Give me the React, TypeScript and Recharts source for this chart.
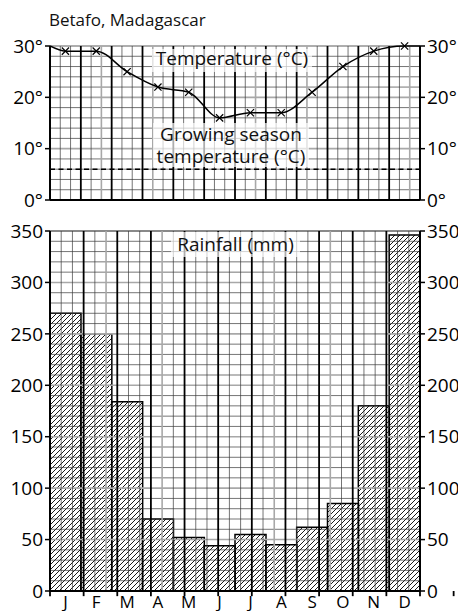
import React from 'react'
import {
  ComposedChart,
  Line,
  Bar,
  XAxis,
  YAxis,
  ReferenceLine,
} from 'recharts'

const months = ['J', 'F', 'M', 'A', 'M', 'J', 'J', 'A', 'S', 'O', 'N', 'D']
const temperature = [29, 29, 25, 22, 21, 16, 17, 17, 21, 26, 29, 30]
const tempAtLeftEdge = 30
const tempAtRightEdge = 30
const rainfall = [270, 250, 184, 70, 52, 44, 55, 45, 62, 85, 180, 346]
const growingSeasonTemp = 6
const tempTicks = [0, 10, 20, 30]
const rainTicks = [0, 50, 100, 150, 200, 250, 300, 350]

const FONT = '"Open Sans", sans-serif'
const W = 458

// graph paper: 3 small squares per month, heavier line every 5 squares
const gridCols = Array.from({ length: 37 }, (_, i) => i)
const tempRows = Array.from({ length: 16 }, (_, i) => i * 2)
const rainRows = Array.from({ length: 36 }, (_, i) => i * 10)
const monthEdges = Array.from({ length: 13 }, (_, i) => i)

const tempData = [
  { x: 0, t: tempAtLeftEdge, edge: true },
  ...months.map((m, i) => ({ x: i + 0.5, t: temperature[i], edge: false })),
  { x: 12, t: tempAtRightEdge, edge: true },
]
const rainData = months.map((m, i) => ({ month: m, key: `${m}${i}`, rain: rainfall[i] }))

const colStyle = (i: number) => {
  if (i % 3 === 0) return { stroke: '#000', strokeWidth: 1.8 }
  if (i % 5 === 0) return { stroke: '#a8a8a8', strokeWidth: 1.6 }
  return { stroke: '#3a3a3a', strokeWidth: 0.7 }
}

const rowStyle = (v: number, major: number) => {
  if (v % major === 0) return { stroke: '#a8a8a8', strokeWidth: 1.6 }
  return { stroke: '#3a3a3a', strokeWidth: 0.7 }
}

const Cross = (props: any) => {
  const { cx, cy, payload } = props
  if (payload.edge || cx == null) return <g />
  const s = 3.6
  return (
    <g stroke="#000" strokeWidth={1.2}>
      <line x1={cx - s} y1={cy - s} x2={cx + s} y2={cy + s} />
      <line x1={cx - s} y1={cy + s} x2={cx + s} y2={cy - s} />
    </g>
  )
}

const tickStyle = { fill: '#000', fontSize: 19, fontFamily: FONT }
const axisLine = { stroke: '#000', strokeWidth: 1.8 }
const tickLine = { stroke: '#000', strokeWidth: 1.5 }

const labelBox: React.CSSProperties = {
  position: 'absolute',
  background: 'rgba(255,255,255,0.68)',
  fontFamily: FONT,
  fontSize: 19,
  color: '#111',
  textAlign: 'center',
  whiteSpace: 'nowrap',
}

export default function App() {
  return (
    <div style={{ position: 'absolute', left: 0, top: 0, width: W, height: 611, background: '#fff', overflow: 'hidden' }}>
      <style>{'html,body{margin:0;overflow:hidden}'}</style>
      <div style={{ position: 'absolute', left: 49, top: 8, fontFamily: FONT, fontSize: 17, lineHeight: '23px', color: '#111' }}>
        Betafo, Madagascar
      </div>

      <div style={{ position: 'absolute', left: 0, top: 0 }}>
        <ComposedChart width={W} height={215} data={tempData} margin={{ top: 46, right: 0, bottom: 15, left: 0 }}>
          <XAxis dataKey="x" type="number" domain={[0, 12]} hide allowDataOverflow />
          <YAxis
            yAxisId="l"
            domain={[0, 30]}
            ticks={tempTicks}
            interval={0}
            width={50}
            tickSize={5}
            tickFormatter={(v: number) => `${v}°`}
            axisLine={axisLine}
            tickLine={tickLine}
            tick={tickStyle}
          />
          <YAxis
            yAxisId="r"
            orientation="right"
            domain={[0, 30]}
            ticks={tempTicks}
            interval={0}
            width={38}
            tickSize={5}
            tickFormatter={(v: number) => `${v}°`}
            axisLine={axisLine}
            tickLine={tickLine}
            tick={tickStyle}
          />
          {tempRows.map((v) => (
            <ReferenceLine key={`h${v}`} yAxisId="l" y={v} {...rowStyle(v, 10)} />
          ))}
          <ReferenceLine yAxisId="l" y={30} stroke="#a8a8a8" strokeWidth={1.4} />
          {gridCols.map((i) => (
            <ReferenceLine key={`v${i}`} yAxisId="l" x={i / 3} {...colStyle(i)} />
          ))}
          <ReferenceLine yAxisId="l" y={0} stroke="#000" strokeWidth={2} />
          <ReferenceLine yAxisId="l" y={growingSeasonTemp} stroke="#000" strokeWidth={1.5} strokeDasharray="5 3.5" />
          <Line
            yAxisId="r"
            dataKey="t"
            stroke="none"
            dot={false}
            activeDot={false}
            legendType="none"
            isAnimationActive={false}
          />
          <Line
            yAxisId="l"
            dataKey="t"
            type="monotone"
            stroke="#000"
            strokeWidth={1.5}
            dot={<Cross />}
            activeDot={false}
            isAnimationActive={false}
          />
        </ComposedChart>
      </div>

      <div style={{ position: 'absolute', left: 0, top: 215 }}>
        <ComposedChart
          width={W}
          height={396}
          data={rainData}
          margin={{ top: 16, right: 0, bottom: 0, left: 0 }}
          barCategoryGap={0}
          barGap={0}
        >
          <defs>
            <pattern id="hatch" width="5" height="5" patternUnits="userSpaceOnUse">
              <path d="M-1,1 l2,-2 M0,5 l5,-5 M4,6 l2,-2" stroke="#000" strokeWidth={0.9} />
            </pattern>
          </defs>
          <XAxis
            xAxisId="cat"
            dataKey="key"
            height={20}
            interval={0}
            tickLine={false}
            tickSize={5}
            tickMargin={0}
            axisLine={{ stroke: '#000', strokeWidth: 2 }}
            tickFormatter={(v: string) => v.charAt(0)}
            tick={{ ...tickStyle, fontSize: 17 }}
          />
          <XAxis xAxisId="num" type="number" domain={[0, 12]} hide allowDataOverflow />
          <YAxis
            yAxisId="l"
            domain={[0, 350]}
            ticks={rainTicks}
            interval={0}
            width={50}
            tickSize={5}
            axisLine={axisLine}
            tickLine={tickLine}
            tick={tickStyle}
          />
          <YAxis
            yAxisId="r"
            orientation="right"
            domain={[0, 350]}
            ticks={rainTicks}
            interval={0}
            width={38}
            tickSize={5}
            axisLine={axisLine}
            tickLine={tickLine}
            tick={tickStyle}
          />
          {rainRows.map((v) => (
            <ReferenceLine key={`h${v}`} xAxisId="num" yAxisId="l" y={v} {...rowStyle(v, 50)} />
          ))}
          <ReferenceLine xAxisId="num" yAxisId="l" y={350} stroke="#555" strokeWidth={1} />
          <Bar
            xAxisId="cat"
            yAxisId="l"
            dataKey="rain"
            fill="url(#hatch)"
            stroke="#000"
            strokeWidth={1.5}
            isAnimationActive={false}
          />
          <Line
            xAxisId="cat"
            yAxisId="r"
            dataKey="rain"
            stroke="none"
            dot={false}
            activeDot={false}
            legendType="none"
            isAnimationActive={false}
          />
          {gridCols.map((i) => (
            <ReferenceLine key={`v${i}`} xAxisId="num" yAxisId="l" x={i / 3} {...colStyle(i)} />
          ))}
          {monthEdges.map((m) => (
            <ReferenceLine
              key={`t${m}`}
              xAxisId="num"
              yAxisId="l"
              segment={[{ x: m, y: 0 }, { x: m, y: -5 }]}
              ifOverflow="visible"
              stroke="#000"
              strokeWidth={1.8}
            />
          ))}
        </ComposedChart>
      </div>

      <div style={{ ...labelBox, left: 152, top: 49, width: 160, height: 23, lineHeight: '19px' }}>
        Temperature (°C)
      </div>
      <div style={{ ...labelBox, left: 153, top: 123, width: 156, height: 44, lineHeight: '22px' }}>
        Growing season
        <br />
        temperature (°C)
      </div>
      <div style={{ ...labelBox, left: 171, top: 232, width: 129, height: 25, lineHeight: '25px' }}>
        Rainfall (mm)
      </div>
    </div>
  )
}
